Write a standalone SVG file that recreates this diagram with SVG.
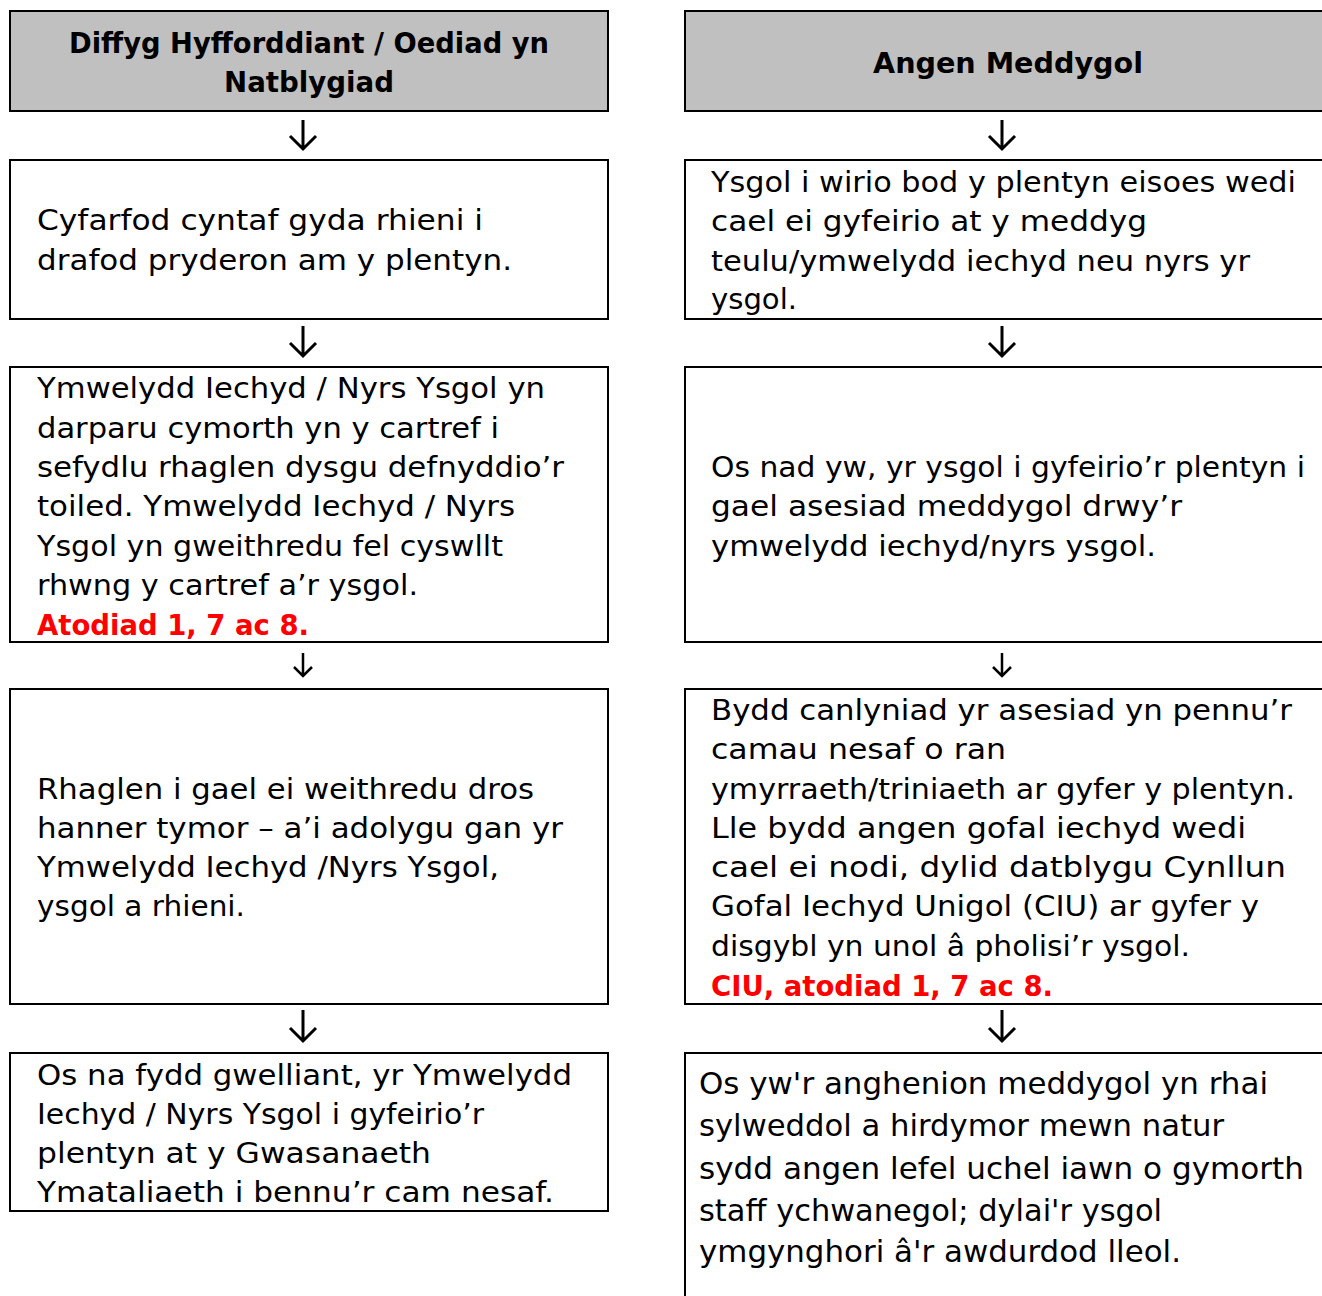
<svg xmlns="http://www.w3.org/2000/svg" width="1322" height="1296" viewBox="0 0 1322 1296">
<defs>
<style>
.box{fill:#ffffff;stroke:#000000;stroke-width:2}
.hdr{fill:#c0c0c0;stroke:#000000;stroke-width:2}
.t{font-family:"DejaVu Sans","Liberation Sans",sans-serif;font-size:28.5px;fill:#000000}
.tl{font-family:"DejaVu Sans","Liberation Sans",sans-serif;font-size:29.5px;fill:#000000}
.tb{font-family:"DejaVu Sans","Liberation Sans",sans-serif;font-size:28px;font-weight:bold;fill:#000000}
.red{font-family:"DejaVu Sans","Liberation Sans",sans-serif;font-size:28.5px;font-weight:bold;fill:#ff0000}
.arr{fill:none;stroke:#000000;stroke-width:3;stroke-linecap:butt;stroke-linejoin:miter}
</style>
</defs>
<rect width="1322" height="1296" fill="#ffffff"/>

<g id="connectors">
<path class="arr" d="M303 120 V149 M290 136 L303 149 L316 136"/>
<path class="arr" d="M303 326 V356 M290 343 L303 356 L316 343"/>
<path class="arr" d="M303 653 V676 M294 667 L303 676 L312 667" style="stroke-width:2.5"/>
<path class="arr" d="M303 1010 V1041 M290 1028 L303 1041 L316 1028"/>
<path class="arr" d="M1002 120 V149 M989 136 L1002 149 L1015 136"/>
<path class="arr" d="M1002 326 V356 M989 343 L1002 356 L1015 343"/>
<path class="arr" d="M1002 653 V676 M993 667 L1002 676 L1011 667" style="stroke-width:2.5"/>
<path class="arr" d="M1002 1010 V1041 M989 1028 L1002 1041 L1015 1028"/>
</g>

<g id="left-header">
<rect class="hdr" x="10" y="11" width="598" height="100"/>
<text class="tb" x="69" y="53" textLength="480" lengthAdjust="spacingAndGlyphs">Diffyg Hyfforddiant / Oediad yn</text>
<text class="tb" x="224" y="92" textLength="170" lengthAdjust="spacingAndGlyphs">Natblygiad</text>
</g>

<g id="right-header">
<rect class="hdr" x="685" y="11" width="700" height="100"/>
<text class="tb" x="873" y="73" textLength="270" lengthAdjust="spacingAndGlyphs">Angen Meddygol</text>
</g>

<g id="left-box-2">
<rect class="box" x="10" y="160" width="598" height="159"/>
<text class="t" x="37" y="230" textLength="446" lengthAdjust="spacingAndGlyphs">Cyfarfod cyntaf gyda rhieni i</text>
<text class="t" x="37" y="270" textLength="475" lengthAdjust="spacingAndGlyphs">drafod pryderon am y plentyn.</text>
</g>

<g id="right-box-2">
<rect class="box" x="685" y="160" width="700" height="159"/>
<text class="t" x="711" y="192" textLength="585" lengthAdjust="spacingAndGlyphs">Ysgol i wirio bod y plentyn eisoes wedi</text>
<text class="t" x="711" y="231" textLength="436" lengthAdjust="spacingAndGlyphs">cael ei gyfeirio at y meddyg</text>
<text class="t" x="711" y="271" textLength="539" lengthAdjust="spacingAndGlyphs">teulu/ymwelydd iechyd neu nyrs yr</text>
<text class="t" x="711" y="309" textLength="86" lengthAdjust="spacingAndGlyphs">ysgol.</text>
</g>

<g id="left-box-3">
<rect class="box" x="10" y="367" width="598" height="275"/>
<text class="t" x="37" y="398" textLength="508" lengthAdjust="spacingAndGlyphs">Ymwelydd Iechyd / Nyrs Ysgol yn</text>
<text class="t" x="37" y="438" textLength="462" lengthAdjust="spacingAndGlyphs">darparu cymorth yn y cartref i</text>
<text class="t" x="37" y="477" textLength="527" lengthAdjust="spacingAndGlyphs">sefydlu rhaglen dysgu defnyddio’r</text>
<text class="t" x="37" y="516" textLength="478" lengthAdjust="spacingAndGlyphs">toiled. Ymwelydd Iechyd / Nyrs</text>
<text class="t" x="37" y="556" textLength="466" lengthAdjust="spacingAndGlyphs">Ysgol yn gweithredu fel cyswllt</text>
<text class="t" x="37" y="595" textLength="381" lengthAdjust="spacingAndGlyphs">rhwng y cartref a’r ysgol.</text>
<text class="red" x="37" y="635" textLength="272" lengthAdjust="spacingAndGlyphs">Atodiad 1, 7 ac 8.</text>
</g>

<g id="right-box-3">
<rect class="box" x="685" y="367" width="700" height="275"/>
<text class="t" x="711" y="477" textLength="594" lengthAdjust="spacingAndGlyphs">Os nad yw, yr ysgol i gyfeirio’r plentyn i</text>
<text class="t" x="711" y="516" textLength="471" lengthAdjust="spacingAndGlyphs">gael asesiad meddygol drwy’r</text>
<text class="t" x="711" y="556" textLength="445" lengthAdjust="spacingAndGlyphs">ymwelydd iechyd/nyrs ysgol.</text>
</g>

<g id="left-box-4">
<rect class="box" x="10" y="689" width="598" height="315"/>
<text class="t" x="37" y="799" textLength="497" lengthAdjust="spacingAndGlyphs">Rhaglen i gael ei weithredu dros</text>
<text class="t" x="37" y="838" textLength="526" lengthAdjust="spacingAndGlyphs">hanner tymor – a’i adolygu gan yr</text>
<text class="t" x="37" y="877" textLength="462" lengthAdjust="spacingAndGlyphs">Ymwelydd Iechyd /Nyrs Ysgol,</text>
<text class="t" x="37" y="916" textLength="208" lengthAdjust="spacingAndGlyphs">ysgol a rhieni.</text>
</g>

<g id="right-box-4">
<rect class="box" x="685" y="689" width="700" height="315"/>
<text class="t" x="711" y="720" textLength="581" lengthAdjust="spacingAndGlyphs">Bydd canlyniad yr asesiad yn pennu’r</text>
<text class="t" x="711" y="759" textLength="295" lengthAdjust="spacingAndGlyphs">camau nesaf o ran</text>
<text class="t" x="711" y="799" textLength="584" lengthAdjust="spacingAndGlyphs">ymyrraeth/triniaeth ar gyfer y plentyn.</text>
<text class="t" x="711" y="838" textLength="535" lengthAdjust="spacingAndGlyphs">Lle bydd angen gofal iechyd wedi</text>
<text class="t" x="711" y="877" textLength="575" lengthAdjust="spacingAndGlyphs">cael ei nodi, dylid datblygu Cynllun</text>
<text class="t" x="711" y="916" textLength="548" lengthAdjust="spacingAndGlyphs">Gofal Iechyd Unigol (CIU) ar gyfer y</text>
<text class="t" x="711" y="956" textLength="479" lengthAdjust="spacingAndGlyphs">disgybl yn unol â pholisi’r ysgol.</text>
<text class="red" x="711" y="996" textLength="342" lengthAdjust="spacingAndGlyphs">CIU, atodiad 1, 7 ac 8.</text>
</g>

<g id="left-box-5">
<rect class="box" x="10" y="1053" width="598" height="158"/>
<text class="t" x="37" y="1085" textLength="535" lengthAdjust="spacingAndGlyphs">Os na fydd gwelliant, yr Ymwelydd</text>
<text class="t" x="37" y="1124" textLength="447" lengthAdjust="spacingAndGlyphs">Iechyd / Nyrs Ysgol i gyfeirio’r</text>
<text class="t" x="37" y="1163" textLength="394" lengthAdjust="spacingAndGlyphs">plentyn at y Gwasanaeth</text>
<text class="t" x="37" y="1202" textLength="517" lengthAdjust="spacingAndGlyphs">Ymataliaeth i bennu’r cam nesaf.</text>
</g>

<g id="right-box-5">
<rect class="box" x="685" y="1053" width="700" height="300"/>
<text class="tl" x="699" y="1094" textLength="569" lengthAdjust="spacingAndGlyphs">Os yw'r anghenion meddygol yn rhai</text>
<text class="tl" x="699" y="1136" textLength="525" lengthAdjust="spacingAndGlyphs">sylweddol a hirdymor mewn natur</text>
<text class="tl" x="699" y="1179" textLength="605" lengthAdjust="spacingAndGlyphs">sydd angen lefel uchel iawn o gymorth</text>
<text class="tl" x="699" y="1221" textLength="463" lengthAdjust="spacingAndGlyphs">staff ychwanegol; dylai'r ysgol</text>
<text class="tl" x="699" y="1262" textLength="482" lengthAdjust="spacingAndGlyphs">ymgynghori â'r awdurdod lleol.</text>
</g>
</svg>
